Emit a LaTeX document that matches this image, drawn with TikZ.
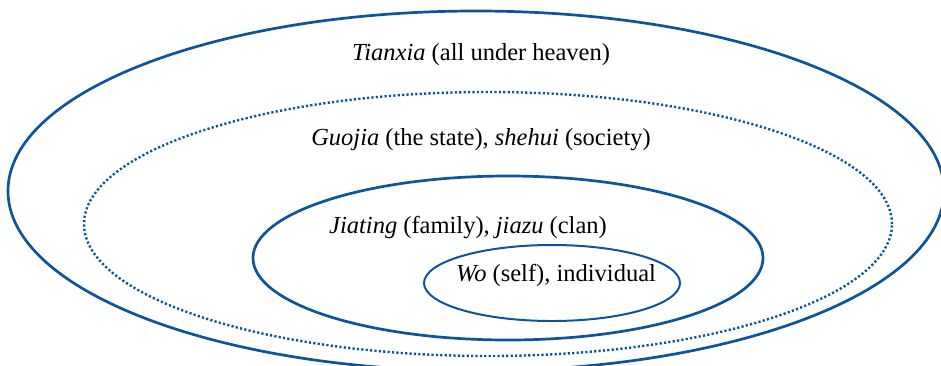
\documentclass[tikz,border=0pt]{standalone}
\usepackage{fontspec}
\setmainfont{Liberation Serif}
\usetikzlibrary{positioning}
\definecolor{ringblue}{RGB}{14,84,156}
\tikzstyle{ring}=[draw=ringblue, line width=2.7pt]
\tikzstyle{dotring}=[ring, line width=2.4pt, dash pattern=on 2.2pt off 2.2pt]
\tikzstyle{selfring}=[ring, line width=2pt]
\tikzstyle{lbl}=[font=\fontsize{24.5}{29}\selectfont, inner sep=0pt]

\begin{document}
\begin{tikzpicture}[x=1pt,y=-1pt]
  \useasboundingbox (0,0) rectangle (941,365);
  \clip (0,0) rectangle (941,365);
  % rings, outermost first
  \draw[ring] (476,191) ellipse (468pt and 180pt);
  \draw[dotring] (488,224) ellipse (404pt and 132pt);
  \draw[ring] (508,258) ellipse (255pt and 82pt);
  \draw[selfring] (552,283) ellipse (128pt and 38pt);

  \node[lbl] (tianxia) at (481,55) {\textit{Tianxia} (all under heaven)};
  \node[lbl] (guojia) at (481,140) {\textit{Guojia} (the state), \textit{shehui} (society)};
  \node[lbl] (jiating) at (468,228) {\textit{Jiating} (family), \textit{jiazu} (clan)};
  \node[lbl] (wo) at (556,275) {\textit{Wo} (self), individual};
\end{tikzpicture}
\end{document}
